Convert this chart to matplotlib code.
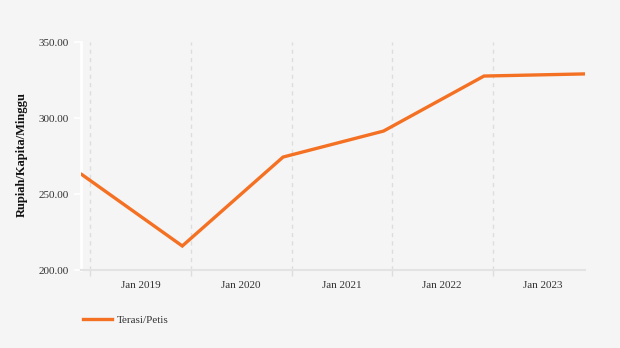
import datetime as dt
import matplotlib
matplotlib.use("Agg")
import matplotlib.pyplot as plt
import matplotlib.dates as mdates
from matplotlib.ticker import FixedLocator, FuncFormatter

dates = [dt.date(2018, 12, 1), dt.date(2019, 12, 1), dt.date(2020, 12, 1),
         dt.date(2021, 12, 1), dt.date(2022, 12, 1), dt.date(2023, 12, 1)]
values = [262.8, 215.8, 274.3, 291.4, 327.6, 329.0]
series_name = "Terasi/Petis"
year_labels = ["Jan 2019", "Jan 2020", "Jan 2021", "Jan 2022", "Jan 2023"]
years = [2019, 2020, 2021, 2022, 2023]

plt.rcParams['font.family'] = ['Liberation Serif', 'DejaVu Serif']
bg = '#f5f5f5'
orange = '#f47124'

fig = plt.figure(figsize=(6.2, 3.48), dpi=100, facecolor=bg)
ax = fig.add_axes([81/620, 1-270/348, (585-81)/620, (270-42)/348], facecolor=bg)

line, = ax.plot(dates, values, color=orange, lw=2.4, solid_joinstyle='miter',
                label=series_name, zorder=3)

ax.set_ylim(200, 350)
ax.set_yticks([200, 250, 300, 350])
ax.yaxis.set_major_formatter(FuncFormatter(lambda v, p: f'{v:.2f}'))
ax.set_xlim(mdates.date2num(dt.date(2018, 11, 28)), mdates.date2num(dt.date(2023, 12, 3)))

# gridlines on year boundaries, labels in the middle of each year
jan = [mdates.date2num(dt.date(y, 1, 1)) for y in years]
mid = [mdates.date2num(dt.date(y, 7, 2)) for y in years]
ax.xaxis.set_major_locator(FixedLocator(jan))
ax.xaxis.set_major_formatter(FuncFormatter(lambda v, p: ''))
ax.xaxis.set_minor_locator(FixedLocator(mid))
ax.xaxis.set_minor_formatter(FuncFormatter(lambda v, p: year_labels[p] if p is not None and p < len(year_labels) else ''))
ax.tick_params(axis='x', which='major', length=4, color='#dddddd', width=1)
ax.tick_params(axis='x', which='minor', length=0, labelsize=8, labelcolor='#333333', pad=8)
ax.tick_params(axis='y', length=5, color='white', width=1.2, labelsize=8, labelcolor='#333333', pad=4)
for t in ax.xaxis.get_majorticklines():
    t.set_linestyle((0, (3, 3)))
ax.grid(axis='x', which='major', color='#dddddd', lw=1, ls=(0, (3, 3)))

for s in ['top', 'right']:
    ax.spines[s].set_visible(False)
ax.spines['left'].set_color('white')
ax.spines['left'].set_linewidth(2)
ax.spines['bottom'].set_color('#e3e3e3')
ax.spines['bottom'].set_linewidth(1.5)

fig.text(22/620, 1-155/348, 'Rupiah/Kapita/Minggu', rotation=90, ha='center', va='center',
         fontsize=9, fontweight='bold', color='#111111')

fig.legend(handles=[line], loc='center left', bbox_to_anchor=(73/620, 1-320/348),
           frameon=False, fontsize=8, handlelength=2.6, handletextpad=0.45,
           labelcolor='#333333')

fig.savefig('out.png', dpi=100, facecolor=bg)
